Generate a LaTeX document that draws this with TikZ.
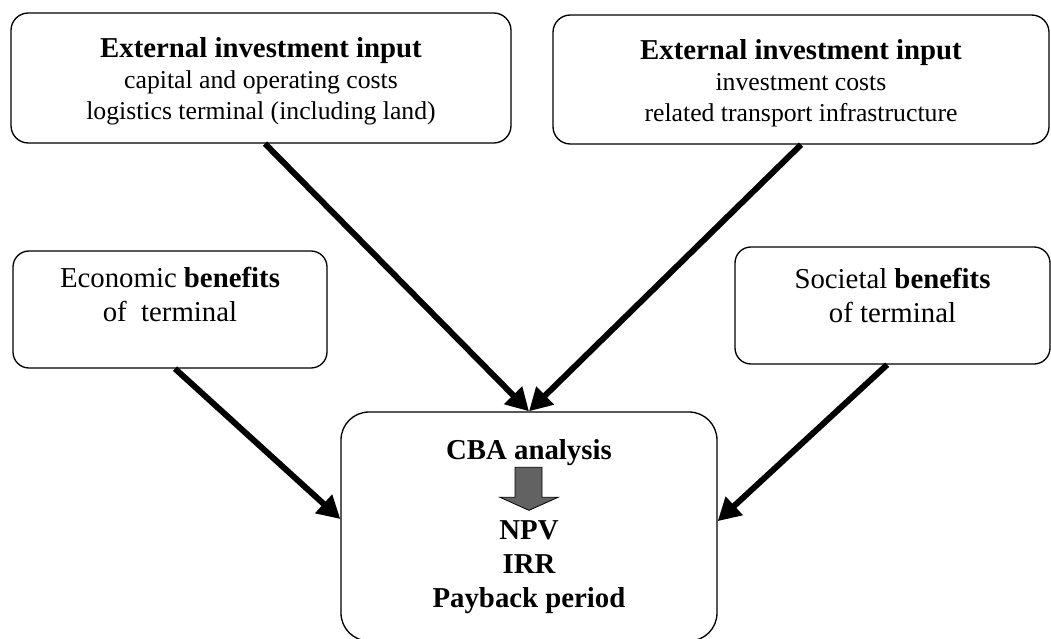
\documentclass[tikz,border=0pt]{standalone}
\usepackage{fontspec}
\setmainfont{Liberation Serif}
\usetikzlibrary{positioning,arrows.meta}
\definecolor{ink}{HTML}{000000}
\definecolor{slab}{HTML}{626262}
\newcommand{\headsize}{\fontsize{21.6pt}{25.5pt}\selectfont}
\newcommand{\bodysize}{\fontsize{19.3pt}{23.3pt}\selectfont}

\begin{document}
\begin{tikzpicture}[
  x=0.75pt,y=-0.75pt,
  box/.style={draw=ink,line width=1pt,rounded corners=13pt,fill=white,align=center,text=ink,inner sep=0pt},
  txt/.style={align=center,text=ink,inner sep=0pt,font=\headsize},
  arr/.style={-{Triangle[length=17pt,width=18pt]},line width=4.5pt,ink}]
\useasboundingbox (0,0) rectangle (1051,639);
\node[box,minimum width=375pt,minimum height=97.5pt] (capex) at (261,78) {};
\node[txt,font=\bodysize,below=18.5pt of capex.north] (capextxt)
  {{\fontsize{21.6pt}{23.3pt}\selectfont\textbf{External investment input}}\\capital and operating costs\\logistics terminal (including land)};
\node[box,minimum width=372pt,minimum height=96.75pt] (infra) at (801,79.5) {};
\node[txt,font=\bodysize,below=18.5pt of infra.north] (infratxt)
  {{\fontsize{21.6pt}{23.3pt}\selectfont\textbf{External investment input}}\\investment costs\\related transport infrastructure};
\node[box,rounded corners=12pt,minimum width=235.5pt,minimum height=87.75pt] (econ) at (170,309.5) {};
\node[txt,below=12.4pt of econ.north] (econtxt) {Economic \textbf{benefits}\\of~ terminal};
\node[box,rounded corners=12pt,minimum width=236.25pt,minimum height=87.75pt] (soc) at (892.5,305.5) {};
\node[txt,below=16pt of soc.north] (soctxt) {Societal \textbf{benefits}\\of terminal};
\node[box,rounded corners=21pt,minimum width=282pt,minimum height=171.75pt,font=\headsize\bfseries] (cba) at (529,526.5)
  {CBA analysis\\[34.5pt]NPV\\IRR\\Payback period};
% grey block arrow inside the CBA box
\draw[ink,line width=0.6pt,fill=slab] ([shift={(-14,56)}]cba.north) -- ++(27,0) -- ++(0,30) -- ++(16,0)
  -- ++(-29,13) -- ++(-29,-13) -- ++(15,0) -- cycle;
\draw[arr] ([xshift=3pt]capex.south) -- (cba.north);
\draw[arr] (infra.south) -- (cba.north);
\draw[arr] ([xshift=3.75pt]econ.south) -- ([yshift=5.6pt]cba.west);
\draw[arr] ([xshift=-4pt]soc.south) -- ([yshift=4pt]cba.east);
\end{tikzpicture}
\end{document}
